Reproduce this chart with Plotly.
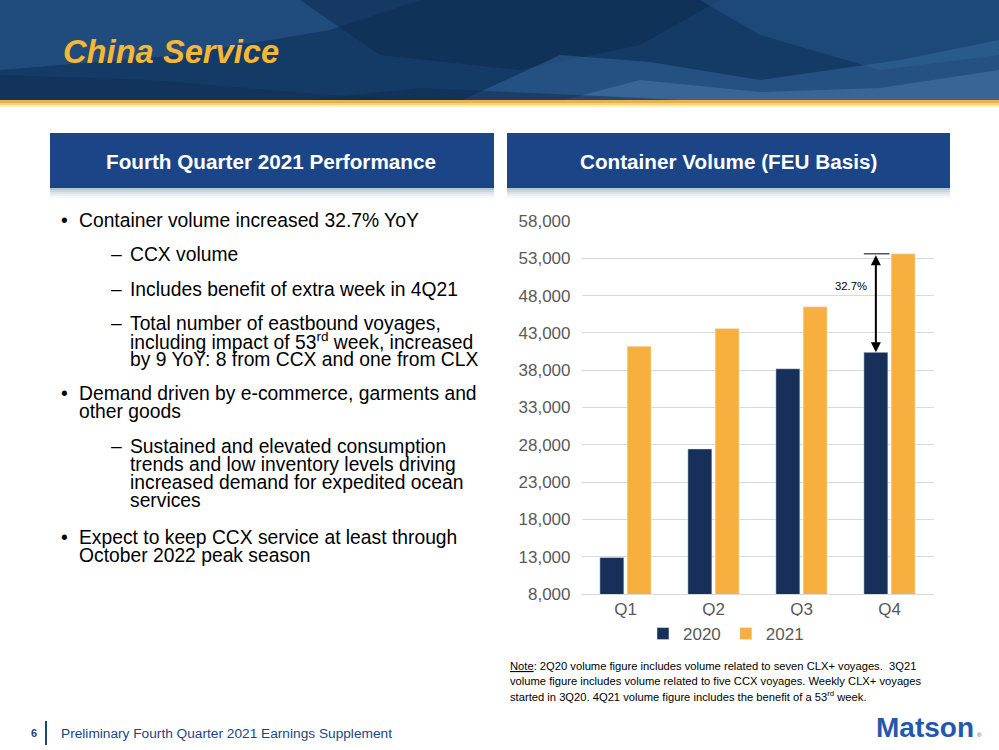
import plotly.graph_objects as go

W, H = 999, 750

quarters = ["Q1", "Q2", "Q3", "Q4"]
vol_2020 = [12900, 27450, 38200, 40400]
vol_2021 = [41200, 43600, 46500, 53600]
y_ticks = [8000, 13000, 18000, 23000, 28000, 33000, 38000, 43000, 48000, 53000, 58000]

NAVY = "#17305A"
GOLD = "#F7B040"
BOX_BLUE = "#1C4587"
GREY_TXT = "#595959"
FONT = "Arial, Liberation Sans, sans-serif"


def px(x):
    return x / W


def py(y):
    return 1 - y / H


fig = go.Figure()
fig.add_trace(go.Bar(x=quarters, y=vol_2020, name="2020", marker_color=NAVY))
fig.add_trace(go.Bar(x=quarters, y=vol_2021, name="2021", marker_color=GOLD))

shapes = []
# banner (ocean photo approximated by layered blues)
shapes.append(dict(type="rect", xref="paper", yref="paper", x0=0, x1=1, y0=py(101), y1=1,
                   fillcolor="#143A66", line_width=0, layer="below"))
waves = [
    ("#2A5B90", 0.55, [(0, 0), (420, 0), (330, 30), (180, 55), (0, 70)]),
    ("#0D2A4C", 0.55, [(300, 0), (720, 0), (640, 45), (520, 70), (380, 55)]),
    ("#25578B", 0.5, [(700, 0), (999, 0), (999, 55), (880, 70), (760, 35)]),
    ("#0F2E52", 0.5, [(0, 101), (0, 75), (150, 80), (330, 95), (420, 101)]),
    ("#3A6EA3", 0.45, [(460, 101), (560, 55), (650, 62), (760, 80), (900, 60), (999, 40), (999, 101)]),
    ("#5C8CBB", 0.35, [(560, 101), (640, 80), (760, 92), (880, 88), (999, 70), (999, 101)]),
    ("#0E2B4E", 0.5, [(0, 101), (300, 101), (420, 88), (600, 96), (700, 101)]),
]
for col, op, pts in waves:
    path = "M " + " L ".join(f"{px(a)},{py(b)}" for a, b in pts) + " Z"
    shapes.append(dict(type="path", xref="paper", yref="paper", path=path, fillcolor=col,
                       opacity=op, line_width=0, layer="below"))
# gold line under banner
for y0, y1, col in [(100, 103, "#E9B343"), (103, 105, "#F3D27E"), (105, 107, "#FBEBC4")]:
    shapes.append(dict(type="rect", xref="paper", yref="paper", x0=0, x1=1, y0=py(y1), y1=py(y0),
                       fillcolor=col, line_width=0, layer="below"))
# section header boxes with soft shadow
for bx0, bx1 in [(50, 494), (507, 950)]:
    shapes.append(dict(type="rect", xref="paper", yref="paper", x0=px(bx0), x1=px(bx1),
                       y0=py(188), y1=py(133), fillcolor=BOX_BLUE, line_width=0, layer="below"))
    for i, col in enumerate(["#B9C3D1", "#CCD4DE", "#DDE2E9", "#EBEEF2", "#F5F7F9"]):
        shapes.append(dict(type="rect", xref="paper", yref="paper", x0=px(bx0), x1=px(bx1),
                           y0=py(188 + 2 * (i + 1)), y1=py(188 + 2 * i),
                           fillcolor=col, line_width=0, layer="below"))
# footer divider
shapes.append(dict(type="line", xref="paper", yref="paper", x0=px(46), x1=px(46),
                   y0=py(745), y1=py(721), line=dict(color=BOX_BLUE, width=2)))

# bar geometry for the Q4 arrow
bargap, groupgap = 0.38, 0.12
slot = (1 - bargap) / 2
left_center = len(quarters) - 1 - slot / 2
half_bar = slot * (1 - groupgap) / 2
shapes.append(dict(type="line", xref="x", yref="y", x0=left_center - half_bar, x1=len(quarters) - 1,
                   y0=vol_2021[-1], y1=vol_2021[-1], line=dict(color="#555555", width=1.5)))
fig.update_layout(shapes=shapes)

ann = []


def txt(x, y, s, size=17, color="#000000", anchor="left", bold=False, italic=False, yanchor="middle"):
    if bold:
        s = f"<b>{s}</b>"
    if italic:
        s = f"<i>{s}</i>"
    ann.append(dict(x=px(x), y=py(y), xref="paper", yref="paper", text=s, showarrow=False,
                    xanchor=anchor, yanchor=yanchor, font=dict(family=FONT, size=size, color=color)))


txt(61, 51, "China Service", size=32.7, color="#F7B733", bold=True, italic=True)
txt(271, 161, "Fourth Quarter 2021 Performance", size=20.7, color="white", anchor="center", bold=True)
txt(728, 161, "Container Volume (FEU Basis)", size=20.7, color="white", anchor="center", bold=True)

bullets = [
    (221, "•", "Container volume increased 32.7% YoY", 0),
    (254, "–", "CCX volume", 1),
    (289, "–", "Includes benefit of extra week in 4Q21", 1),
    (323, "–", "Total number of eastbound voyages,", 1),
    (341, "", "including impact of 53<sup>rd</sup> week, increased", 1),
    (359, "", "by 9 YoY: 8 from CCX and one from CLX", 1),
    (393, "•", "Demand driven by e-commerce, garments and", 0),
    (411, "", "other goods", 0),
    (446, "–", "Sustained and elevated consumption", 1),
    (464, "", "trends and low inventory levels driving", 1),
    (482, "", "increased demand for expedited ocean", 1),
    (500, "", "services", 1),
    (537, "•", "Expect to keep CCX service at least through", 0),
    (555, "", "October 2022 peak season", 0),
]
for y, mark, line, lvl in bullets:
    mx, tx = (59, 77) if lvl == 0 else (109, 128)
    if mark:
        txt(mx, y, mark, size=19.3)
    txt(tx, y, line, size=19.3)

note_lines = [
    "<u>Note</u>: 2Q20 volume figure includes volume related to seven CLX+ voyages.  3Q21",
    "volume figure includes volume related to five CCX voyages. Weekly CLX+ voyages",
    "started in 3Q20. 4Q21 volume figure includes the benefit of a 53<sup>rd</sup> week.",
]
for i, line in enumerate(note_lines):
    txt(508, 666 + 15 * i, line, size=11.2)

txt(29, 733, "6", size=11, color=BOX_BLUE, bold=True)
txt(59, 733, "Preliminary Fourth Quarter 2021 Earnings Supplement", size=13.7, color=BOX_BLUE)
txt(976, 727, "Matson", size=28, color="#1F5AAE", anchor="right", bold=True)
txt(975, 735, "®", size=6, color="#1F5AAE")

growth = (vol_2021[-1] / vol_2020[-1] - 1) * 100
txt(833, 286, f"{growth:.1f}%", size=11.3)
ann.append(dict(x=left_center, y=vol_2020[-1], ax=left_center, ay=vol_2021[-1],
                xref="x", yref="y", axref="x", ayref="y", text="", showarrow=True,
                arrowhead=2, startarrowhead=2, arrowside="end+start", arrowsize=1,
                arrowwidth=2, arrowcolor="#000000"))

fig.update_layout(
    width=W, height=H,
    margin=dict(l=0, r=0, t=0, b=0, autoexpand=False),
    paper_bgcolor="white", plot_bgcolor="white",
    barmode="group", bargap=bargap, bargroupgap=groupgap,
    annotations=ann,
    font=dict(family=FONT, size=17, color=GREY_TXT),
    showlegend=True,
    legend=dict(orientation="h", x=px(726), xanchor="center", y=py(634), yanchor="middle",
                font=dict(size=17, color=GREY_TXT), itemwidth=30, traceorder="normal"),
    xaxis=dict(domain=[px(581.5), px(933.5)], range=[-0.5, 3.5], showgrid=False, automargin=False,
               showline=True, linecolor="#D9D9D9", ticks="", tickfont=dict(size=17, color=GREY_TXT)),
    yaxis=dict(domain=[py(594), py(221)], range=[8000, 58000], tickvals=y_ticks, automargin=False,
               tickformat=",d", showgrid=True, gridcolor="#D9D9D9", zeroline=False,
               ticks="", ticklabelstandoff=10, tickfont=dict(size=17, color=GREY_TXT)),
)

# pin the figure to the top-left corner of the page
page_js = ("document.body.style.margin='0';"
           "var gd=document.querySelector('.plotly-graph-div');"
           "gd.style.position='fixed';gd.style.top='0';gd.style.left='0';")
fig.write_html("out.html", config={"displayModeBar": False}, post_script=page_js)
